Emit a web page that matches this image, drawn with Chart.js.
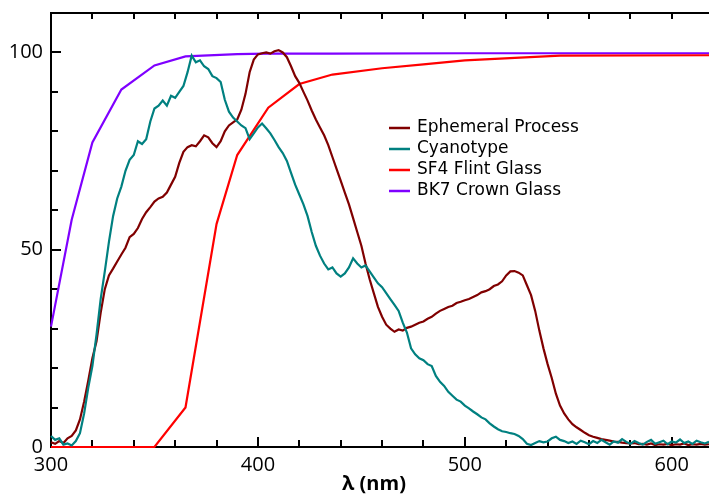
<!DOCTYPE html>
<html>
<head>
<meta charset="utf-8">
<script src="https://cdn.jsdelivr.net/npm/chart.js@4"></script>
<style>
  html, body { margin: 0; padding: 0; background: #fff; }
  #wrap { width: 709px; height: 495px; }
</style>
</head>
<body>
<div id="wrap"><canvas id="chart" width="709" height="495"></canvas></div>
<script>
// wavelength grid (nm) for the measured spectra
const wavelengths = [
  300,302,304,306,308,310,312,314,316,318,320,322,324,326,328,330,332,334,336,338,
  340,342,344,346,348,350,352,354,356,358,360,362,364,366,368,370,372,374,376,378,
  380,382,384,386,388,390,392,394,396,398,400,402,404,406,408,410,412,414,416,418,
  420,422,424,426,428,430,432,434,436,438,440,442,444,446,448,450,452,454,456,458,
  460,462,464,466,468,470,472,474,476,478,480,482,484,486,488,490,492,494,496,498,
  500,502,504,506,508,510,512,514,516,518,520,522,524,526,528,530,532,534,536,538,
  540,542,544,546,548,550,552,554,556,558,560,562,564,566,568,570,572,574,576,578,
  580,582,584,586,588,590,592,594,596,598,600,602,604,606,608,610,612,614,616,618
];

// Ephemeral Process sensitivity (%)
const ephemeral = [
  1.2,0.8,1.5,1.0,2.2,2.8,4.2,7.0,11.5,16.8,22.5,26.8,34.0,40.0,43.5,45.2,47.0,48.8,50.5,53.2,
  54.0,55.5,57.8,59.5,60.8,62.2,63.0,63.4,64.5,66.5,68.5,72.0,74.8,76.0,76.5,76.2,77.5,79.0,78.5,77.0,
  76.0,77.5,80.0,81.5,82.3,83.0,85.5,89.5,95.0,98.2,99.5,99.8,100.0,99.7,100.3,100.6,100.0,98.8,96.5,94.0,
  92.3,90.0,87.8,85.3,83.0,81.0,79.0,76.5,73.5,70.5,67.5,64.5,61.5,58.0,54.5,51.0,46.5,42.5,39.0,35.5,
  33.0,31.0,30.0,29.2,29.8,29.5,30.2,30.5,31.0,31.5,31.8,32.5,33.0,33.8,34.5,35.0,35.5,35.8,36.5,36.8,
  37.2,37.5,38.0,38.5,39.2,39.5,40.0,40.8,41.2,42.0,43.5,44.5,44.6,44.2,43.5,41.0,38.5,34.5,29.5,25.0,
  21.0,17.5,13.5,10.5,8.5,7.0,5.8,5.0,4.3,3.6,3.0,2.6,2.3,2.0,1.8,1.6,1.4,1.3,1.1,1.0,
  0.9,1.0,0.7,0.8,0.6,0.9,0.5,0.7,0.6,0.8,0.5,0.7,0.6,0.9,0.5,0.7,0.6,0.8,0.6,0.7
];

// Cyanotype sensitivity (%)
const cyanotype = [
  2.8,1.8,2.2,0.6,0.9,0.4,1.5,3.5,8.5,15.0,20.5,28.5,37.5,44.5,52.0,58.5,63.0,66.0,70.0,72.8,
  74.0,77.5,76.8,78.0,82.5,85.8,86.5,87.8,86.5,89.0,88.5,90.0,91.5,95.0,99.2,97.5,98.0,96.5,95.8,94.0,
  93.5,92.5,88.0,85.0,83.5,82.5,81.5,80.8,78.0,79.5,81.0,82.0,80.8,79.5,77.8,76.0,74.5,72.5,69.5,66.5,
  64.0,61.5,58.5,54.5,51.0,48.5,46.5,45.0,45.5,44.0,43.2,44.0,45.5,47.8,46.5,45.5,46.0,44.5,43.0,41.5,
  40.5,39.0,37.5,36.0,34.5,31.5,29.0,25.0,23.5,22.5,22.0,21.0,20.5,18.0,16.5,15.5,14.0,13.0,12.0,11.5,
  10.5,9.8,9.0,8.3,7.5,7.0,6.0,5.2,4.5,4.0,3.8,3.5,3.3,2.8,2.0,0.8,0.5,1.0,1.5,1.2,
  1.4,2.2,2.6,1.8,1.5,1.0,1.4,0.8,1.6,1.2,0.7,1.5,1.0,1.8,1.2,0.6,1.4,1.1,2.0,1.3,
  0.8,1.5,1.0,0.6,1.3,1.8,0.8,1.2,1.6,0.7,1.4,1.1,1.9,1.0,1.4,0.8,1.6,1.2,0.9,1.3
];

// glass transmission (%), sparse catalogue points
const sf4Wavelengths = [300, 350, 365, 380, 390, 405, 420, 436, 460, 480, 500, 546, 620];
const sf4Flint = [0, 0, 10, 56.5, 74, 86, 92, 94.4, 96, 97, 98, 99.2, 99.3];
const bk7Wavelengths = [300, 310, 320, 334, 350, 365, 390, 404, 436, 500, 546, 620];
const bk7Crown = [30.5, 57.6, 77.2, 90.6, 96.7, 99.0, 99.6, 99.7, 99.7, 99.8, 99.8, 99.8];

const seriesNames = ["Ephemeral Process", "Cyanotype", "SF4 Flint Glass", "BK7 Crown Glass"];
const seriesColors = ["#800000", "#008080", "#ff0000", "#7f00ff"];

const xTickValues = [300, 400, 500, 600];
const yTickValues = [0, 50, 100];
const xTitle = "λ (nm)";

const FONT = "'Open Sans', 'DejaVu Sans', sans-serif";
const LEGEND_FONT = "'DejaVu Sans', sans-serif";

function toPoints(xs, ys) {
  return xs.map((x, i) => ({ x: x, y: ys[i] }));
}

// axis frame with inward ticks (top, left, bottom), drawn under the lines
const framePlugin = {
  id: "frame",
  beforeDatasetsDraw(chart) {
    const { ctx, chartArea: a, scales: { x, y } } = chart;
    ctx.save();
    ctx.strokeStyle = "#000";
    ctx.lineWidth = 2;
    ctx.beginPath();
    ctx.moveTo(a.right, a.top);
    ctx.lineTo(a.left, a.top);
    ctx.lineTo(a.left, a.bottom + 1);
    ctx.moveTo(a.left - 1, a.bottom);
    ctx.lineTo(a.right, a.bottom);
    for (let v = x.min; v <= x.max; v += 20) {
      const px = Math.round(x.getPixelForValue(v));
      const len = v % 100 === 0 ? 10 : 7;
      ctx.moveTo(px, a.bottom);
      ctx.lineTo(px, a.bottom - len);
      ctx.moveTo(px, a.top);
      ctx.lineTo(px, a.top + 6);
    }
    for (let v = 0; v <= y.max; v += 10) {
      const py = Math.round(y.getPixelForValue(v));
      const len = v % 50 === 0 ? 10 : 7;
      ctx.moveTo(a.left, py);
      ctx.lineTo(a.left + len, py);
    }
    ctx.stroke();
    ctx.restore();
  }
};

// legend inside the plot, plus the x axis title
const legendPlugin = {
  id: "insideLegend",
  afterDraw(chart) {
    const ctx = chart.ctx;
    ctx.save();
    ctx.font = "17px " + LEGEND_FONT;
    ctx.textBaseline = "middle";
    ctx.fillStyle = "#000";
    seriesNames.forEach((name, i) => {
      const yy = 128 + i * 21;
      ctx.strokeStyle = seriesColors[i];
      ctx.lineWidth = 2.5;
      ctx.beginPath();
      ctx.moveTo(389, yy);
      ctx.lineTo(410, yy);
      ctx.stroke();
      ctx.fillText(name, 417, yy);
    });
    ctx.font = "bold 20px " + FONT;
    ctx.textAlign = "center";
    ctx.fillText(xTitle, 374, 484);
    ctx.restore();
  }
};

const ctx = document.getElementById("chart").getContext("2d");
new Chart(ctx, {
  type: "line",
  data: {
    datasets: [
      { label: seriesNames[0], data: toPoints(wavelengths, ephemeral), borderColor: seriesColors[0], order: 1 },
      { label: seriesNames[1], data: toPoints(wavelengths, cyanotype), borderColor: seriesColors[1], order: 0 },
      { label: seriesNames[2], data: toPoints(sf4Wavelengths, sf4Flint), borderColor: seriesColors[2], order: 2 },
      { label: seriesNames[3], data: toPoints(bk7Wavelengths, bk7Crown), borderColor: seriesColors[3], order: 3 }
    ]
  },
  options: {
    responsive: false,
    animation: false,
    events: [],
    layout: { padding: { top: 13, right: 0, left: 0, bottom: 0 } },
    elements: {
      point: { radius: 0 },
      line: { borderWidth: 2.2, tension: 0, fill: false }
    },
    datasets: { line: { clip: false } },
    plugins: {
      legend: { display: false },
      tooltip: { enabled: false }
    },
    scales: {
      x: {
        type: "linear",
        min: 300,
        max: 618,
        grid: { display: false, drawTicks: false },
        border: { display: false },
        afterBuildTicks: (s) => { s.ticks = xTickValues.map(v => ({ value: v })); },
        afterFit: (s) => { s.height = 48; s.paddingLeft = 0; s.paddingRight = 0; },
        ticks: { color: "#000", padding: 6, maxRotation: 0, font: { family: FONT, size: 20 } }
      },
      y: {
        min: 0,
        max: 110,
        grid: { display: false, drawTicks: false },
        border: { display: false },
        afterBuildTicks: (s) => { s.ticks = yTickValues.map(v => ({ value: v })); },
        afterFit: (s) => { s.width = 51; s.paddingTop = 0; s.paddingBottom = 0; },
        ticks: { color: "#000", padding: 8, font: { family: FONT, size: 20 } }
      }
    }
  },
  plugins: [framePlugin, legendPlugin]
});
</script>
</body>
</html>
